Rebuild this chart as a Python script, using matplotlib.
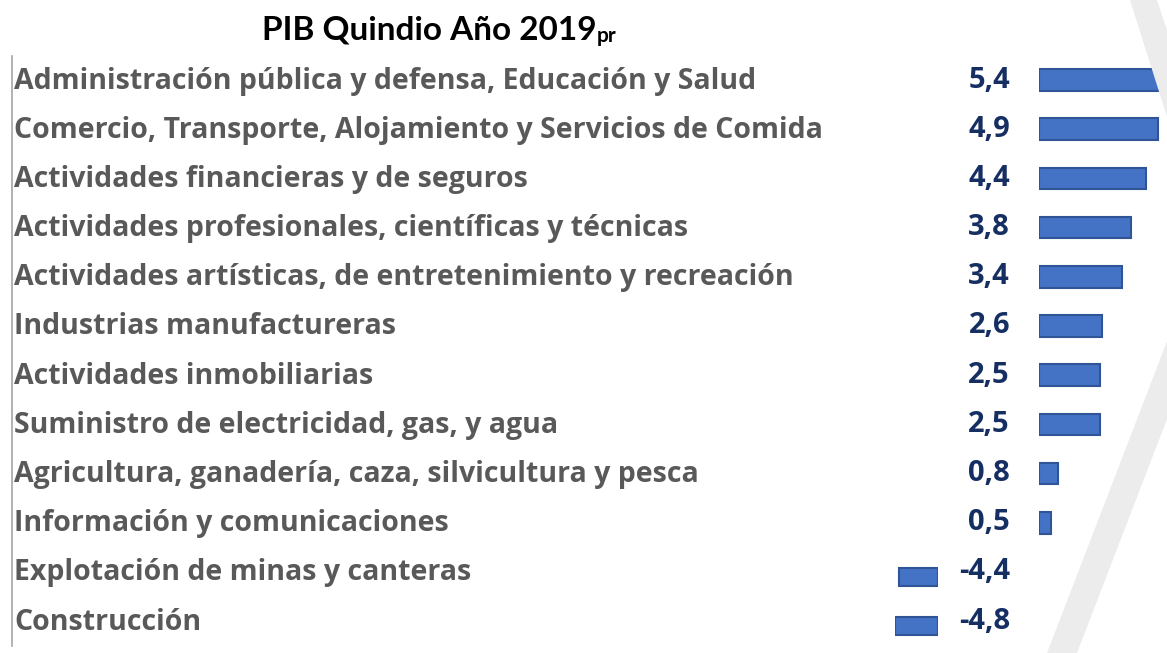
import matplotlib
matplotlib.use("Agg")
import matplotlib.pyplot as plt
from matplotlib.patches import Polygon
from matplotlib.transforms import blended_transform_factory

# Datos: PIB Quindio 2019pr, variacion anual (%)
sectores = [
    "Administración pública y defensa, Educación y Salud",
    "Comercio, Transporte, Alojamiento y Servicios de Comida",
    "Actividades financieras y de seguros",
    "Actividades profesionales, científicas y técnicas",
    "Actividades artísticas, de entretenimiento y recreación",
    "Industrias manufactureras",
    "Actividades inmobiliarias",
    "Suministro de electricidad, gas, y agua",
    "Agricultura, ganadería, caza, silvicultura y pesca",
    "Información y comunicaciones",
    "Explotación de minas y canteras",
    "Construcción",
]
variacion = [5.4, 4.9, 4.4, 3.8, 3.4, 2.6, 2.5, 2.5, 0.8, 0.5, -4.4, -4.8]

W, H = 1167, 653
fig = plt.figure(figsize=(W / 100, H / 100), dpi=100)
fig.patch.set_facecolor("white")


def fx(px):
    return px / W


def fy(py):
    return 1 - py / H


# franja gris decorativa a la derecha
franja = Polygon([(fx(1130), fy(0)), (fx(1206), fy(240)), (fx(1047), fy(653)),
                  (fx(1077), fy(653)), (fx(1236), fy(240)), (fx(1157), fy(0))],
                 closed=True, transform=fig.transFigure, facecolor="#ECECEC",
                 edgecolor="none", zorder=0)
fig.patches.append(franja)

# zona de filas
top_px, pitch = 55.5, 49.18
bot_px = top_px + pitch * len(sectores)
ax_b = fy(bot_px)
ax_h = (bot_px - top_px) / H

ax_lab = fig.add_axes([fx(12), ax_b, fx(860), ax_h])
ax_pos = fig.add_axes([fx(1039), ax_b, fx(1170 - 1039), ax_h], sharey=ax_lab)
ax_neg = fig.add_axes([fx(895), ax_b, fx(938 - 895), ax_h], sharey=ax_lab)

filas = list(range(len(sectores)))
pos = [(i, v) for i, v in zip(filas, variacion) if v >= 0]
neg = [(i, v) for i, v in zip(filas, variacion) if v < 0]

ax_pos.barh([p[0] for p in pos], [p[1] for p in pos], height=0.44,
            color="#4472C4", edgecolor="#2F5597", linewidth=1.5)
ax_pos.set_xlim(0, 131 / 24.3)

ax_neg.barh([n[0] + 0.1 for n in neg], [n[1] for n in neg], height=0.36,
            color="#4472C4", edgecolor="#2F5597", linewidth=1.5)
ax_neg.set_xlim(-4.8, 0)

ax_lab.set_ylim(len(sectores) - 0.5, -0.5)

for ax in (ax_lab, ax_pos, ax_neg):
    ax.patch.set_alpha(0)
    ax.set_xticks([])
    ax.set_yticks([])
    for s in ax.spines.values():
        s.set_visible(False)
ax_lab.spines["left"].set_visible(True)
ax_lab.spines["left"].set_color("#A6A6A6")
ax_lab.spines["left"].set_linewidth(1.2)

# etiquetas de sectores
trans_lab = blended_transform_factory(fig.transFigure, ax_lab.transData)
for i, nombre in enumerate(sectores):
    ax_lab.text(fx(14), i + 0.02, nombre, transform=trans_lab,
                ha="left", va="center", fontsize=20.5, fontweight="bold",
                family="Open Sans", color="#595959")

# valores
for i, v in enumerate(variacion):
    ax_lab.text(fx(1010), i, f"{v:.1f}".replace(".", ","), transform=trans_lab,
                ha="right", va="center", fontsize=21, fontweight="bold",
                family="Open Sans", color="#162F62")

# titulo con "pr" como subindice
fig.text(fx(262), fy(40), "PIB Quindio Año 2019", ha="left", va="baseline",
         fontsize=24, fontweight="bold", family="Lato", color="black")
fig.text(fx(597), fy(42), "pr", ha="left", va="baseline",
         fontsize=15, fontweight="bold", family="Lato", color="black")

fig.savefig("out.png", dpi=100, facecolor="white")
